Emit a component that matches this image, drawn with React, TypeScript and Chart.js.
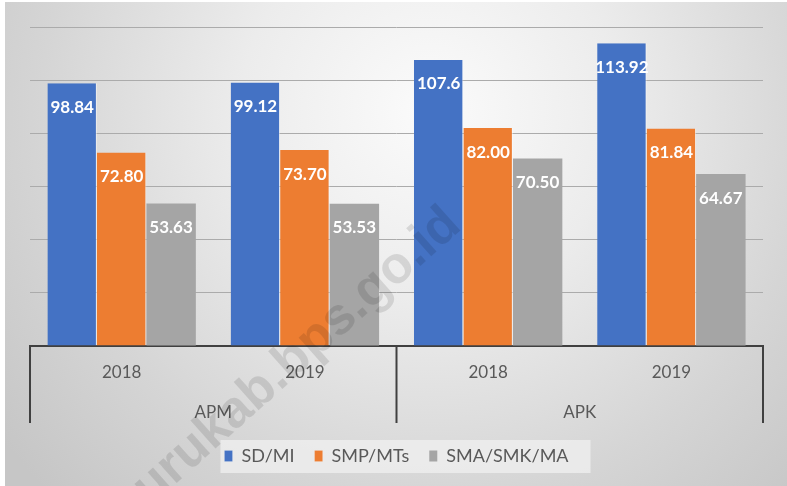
import React, { useEffect, useRef } from "react";
import { Chart, registerables } from "chart.js";

Chart.register(...registerables);

const years = ["2018", "2019", "2018", "2019"];
const groups = ["APM", "APK"];
const seriesNames = ["SD/MI", "SMP/MTs", "SMA/SMK/MA"];
const sdValues = [98.84, 99.12, 107.6, 113.92];
const smpValues = [72.8, 73.7, 82.0, 81.84];
const smaValues = [53.63, 53.53, 70.5, 64.67];
const sdText = ["98.84", "99.12", "107.6", "113.92"];
const smpText = ["72.80", "73.70", "82.00", "81.84"];
const smaText = ["53.63", "53.53", "70.50", "64.67"];
const yTicks = { min: 0, max: 120, step: 20 };
const watermark = "burukab.bps.go.id";

const FONT = "Lato, 'Open Sans', sans-serif";

const bgPlugin = {
  id: "bgPlugin",
  beforeDraw(chart: any) {
    const { ctx, width, height } = chart;
    ctx.save();
    ctx.fillStyle = "#ffffff";
    ctx.fillRect(0, 0, width, height);
    const g = ctx.createRadialGradient(430, 110, 0, 430, 110, 540);
    g.addColorStop(0, "#fbfbfb");
    g.addColorStop(0.35, "#ececec");
    g.addColorStop(0.72, "#d5d5d5");
    g.addColorStop(1, "#c6c6c6");
    ctx.fillStyle = g;
    ctx.fillRect(5, 2, width - 5, height - 2);
    const lg = chart.legend;
    if (lg && lg.legendHitBoxes && lg.legendHitBoxes.length) {
      const hb = lg.legendHitBoxes;
      const l = hb[0].left - 4;
      const last = hb[hb.length - 1];
      const r = last.left + last.width + 22;
      const t = hb[0].top - 7;
      const b = hb[0].top + hb[0].height + 8;
      ctx.fillStyle = "rgba(240,240,240,0.75)";
      ctx.fillRect(l, t, r - l, b - t);
    }
    ctx.restore();
  },
};

const overlayPlugin = {
  id: "overlayPlugin",
  afterDraw(chart: any) {
    const { ctx, chartArea } = chart;
    const x = chart.scales.x;
    const x2 = chart.scales.x2;
    ctx.save();
    const texts = [sdText, smpText, smaText];
    ctx.font = `bold 17px ${FONT}`;
    ctx.fillStyle = "#ffffff";
    ctx.textAlign = "center";
    ctx.textBaseline = "middle";
    chart.data.datasets.forEach((ds: any, di: number) => {
      const meta = chart.getDatasetMeta(di);
      meta.data.forEach((el: any, i: number) => {
        ctx.fillText(texts[di][i], el.x, el.y + 24);
      });
    });
    const bounds = [x.left, (x.getPixelForValue(1) + x.getPixelForValue(2)) / 2, x.right];
    ctx.strokeStyle = "#404040";
    ctx.lineWidth = 2;
    bounds.forEach((bx: number) => {
      ctx.beginPath();
      ctx.moveTo(bx, chartArea.bottom - 1);
      ctx.lineTo(bx, x2.bottom - 4);
      ctx.stroke();
    });
    ctx.translate(463, 228);
    ctx.rotate((-41.7 * Math.PI) / 180);
    ctx.font = "bold 52px 'Liberation Sans', Arial, sans-serif";
    ctx.textAlign = "right";
    ctx.textBaseline = "alphabetic";
    ctx.fillStyle = "rgba(0,0,0,0.11)";
    ctx.fillText(watermark, 0, 0);
    ctx.restore();
  },
};

export default function App() {
  const ref = useRef<HTMLCanvasElement | null>(null);
  useEffect(() => {
    if (!ref.current) return;
    const edge = { top: 0, right: 1, bottom: 0, left: 0 };
    const chart = new Chart(ref.current, {
      type: "bar",
      data: {
        labels: years,
        datasets: [
          { label: seriesNames[0], data: sdValues, backgroundColor: "#4472C4", borderColor: "rgba(255,255,255,0.55)", borderWidth: edge },
          { label: seriesNames[1], data: smpValues, backgroundColor: "#ED7D31", borderColor: "rgba(255,255,255,0.55)", borderWidth: edge },
          { label: seriesNames[2], data: smaValues, backgroundColor: "#A5A5A5", borderWidth: 0 },
        ],
      },
      options: {
        animation: false,
        responsive: true,
        maintainAspectRatio: false,
        datasets: { bar: { categoryPercentage: 0.81, barPercentage: 1.0 } },
        layout: { padding: { left: 30, right: 24, top: 27, bottom: 11 } },
        plugins: {
          tooltip: { enabled: false },
          legend: {
            position: "bottom",
            labels: {
              font: { family: FONT, size: 18 },
              color: "#595959",
              boxWidth: 8,
              boxHeight: 11,
              padding: 20,
            },
          },
        },
        scales: {
          x: {
            type: "category",
            position: "bottom",
            grid: { display: false, drawTicks: false },
            border: { display: true, color: "#404040", width: 2 },
            ticks: { font: { family: FONT, size: 17 }, color: "#595959", padding: 16 },
            afterFit: (s: any) => {
              s.height = 36;
            },
          },
          x2: {
            type: "category",
            labels: groups,
            position: "bottom",
            grid: { display: false, drawTicks: false },
            border: { display: false },
            ticks: { font: { family: FONT, size: 17 }, color: "#595959", padding: 20 },
            afterFit: (s: any) => {
              s.height = 45;
            },
          },
          y: {
            min: yTicks.min,
            max: yTicks.max,
            ticks: { display: false, stepSize: yTicks.step },
            grid: { color: "#ababab", lineWidth: 1, drawTicks: false },
            border: { display: false },
            afterFit: (s: any) => {
              s.width = 0;
            },
          },
        },
      },
      plugins: [bgPlugin, overlayPlugin],
    });
    return () => chart.destroy();
  }, []);
  return (
    <div style={{ position: "fixed", left: 0, top: 0, width: 787, height: 486 }}>
      <canvas ref={ref} />
    </div>
  );
}
